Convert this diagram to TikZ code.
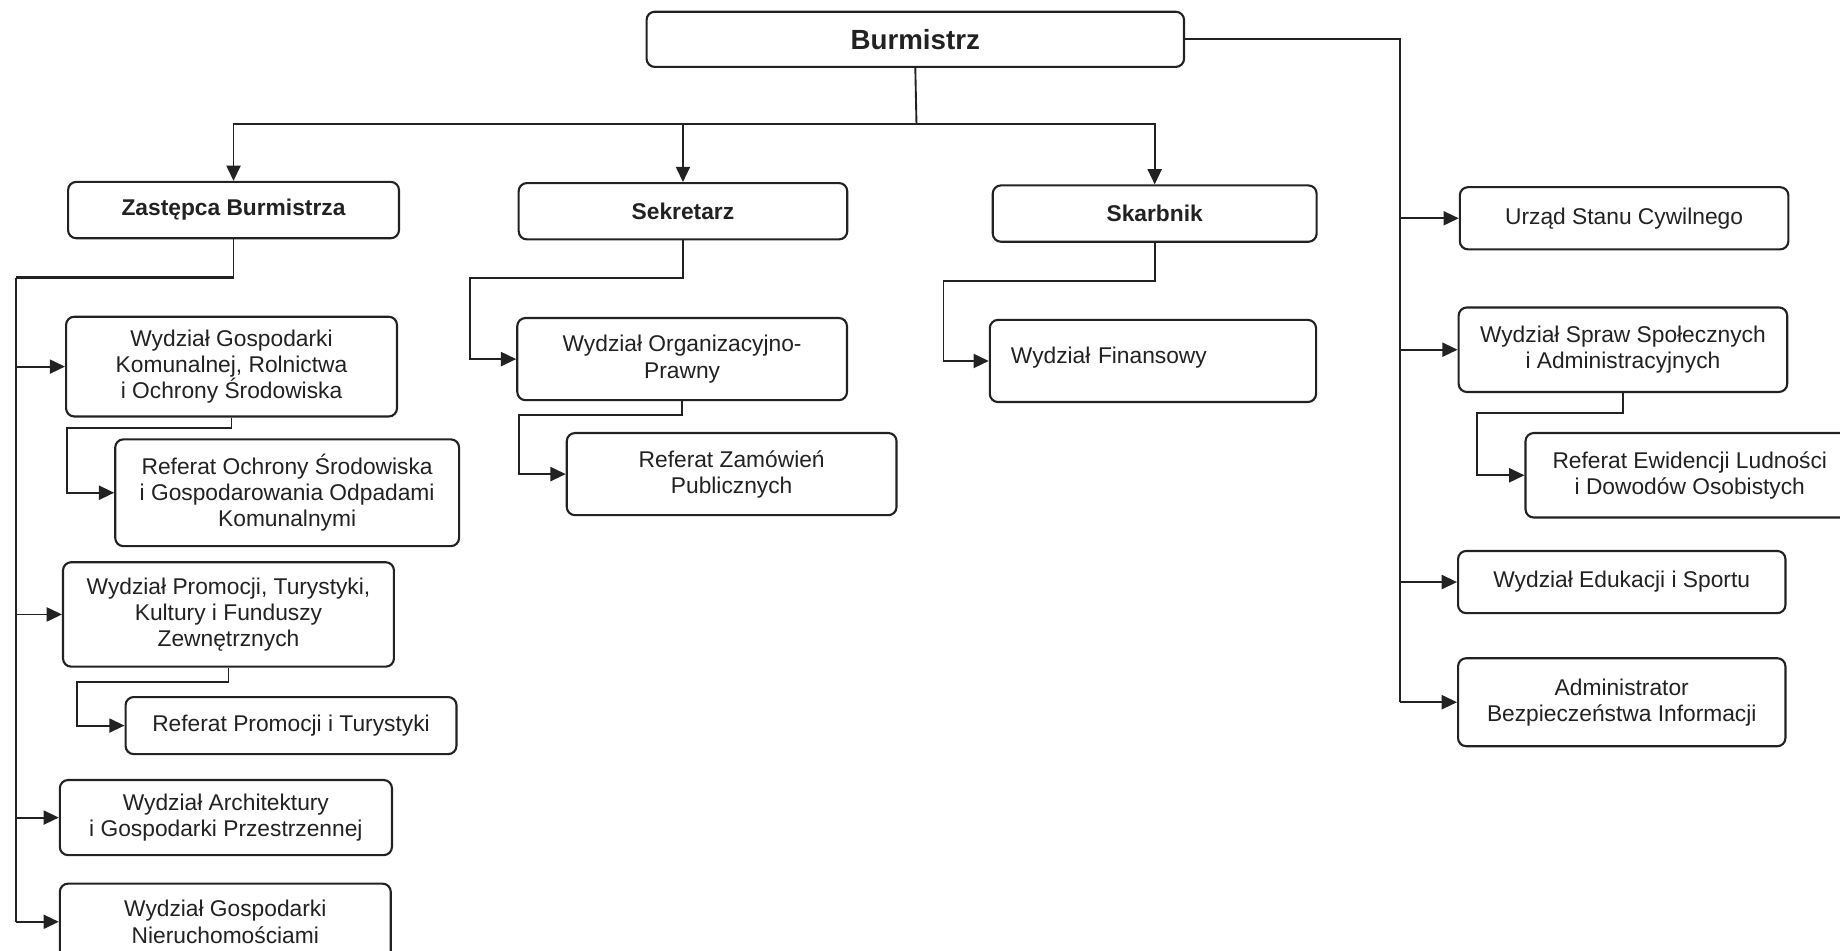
\documentclass[tikz,border=0pt]{standalone}
\usepackage{fontspec}
\setmainfont{Liberation Sans}
\usetikzlibrary{arrows.meta}
\definecolor{ink}{HTML}{222222}
\tikzset{
  box/.style={draw=ink, text=ink, rounded corners=3.5pt, line width=0.9pt, inner sep=2pt, align=center,
    font=\fontsize{9.7}{11.15}\selectfont},
  bx/.style 2 args={box, minimum width={#1*0.5pt}, minimum height={#2*0.5pt}},
  head/.style={font=\fontsize{9.7}{11.15}\selectfont\bfseries},
  conn/.style={draw=ink, line width=0.8pt},
  thickconn/.style={draw=ink, line width=1.4pt},
  arr/.style={conn, -{Triangle[length=6.5pt,width=6pt]}},
}
\begin{document}
\begin{tikzpicture}[x=0.5pt,y=-0.5pt]
\clip (0,0) rectangle (1568,810.4);
\fill[white] (0,0) rectangle (1568,810.4);

% top
\node[bx={458}{47}, font=\fontsize{11.8}{14}\selectfont\bfseries] (burm) at (780,33.5) {Burmistrz};
\node[bx={282}{48}, head] (zast) at (199,179) {Zastępca Burmistrza};
\node[bx={280}{48}, head] (sekr) at (582,180) {Sekretarz};
\node[bx={276}{48}, head] (skarb) at (984,182) {Skarbnik};

% right column
\node[bx={280}{53}] (usc) at (1384,186) {Urząd Stanu Cywilnego};
\node[bx={280}{72}] (wss) at (1383,298) {Wydział Spraw Społecznych\\i Administracyjnych};
\node[bx={280}{72}] (rel) at (1440,405) {Referat Ewidencji Ludności\\i Dowodów Osobistych};
\node[bx={279}{53}] (wes) at (1382,496) {Wydział Edukacji i Sportu};
\node[bx={279}{75}] (abi) at (1382,598.4) {Administrator\\Bezpieczeństwa Informacji};

% left column
\node[bx={282}{85}] (wgk) at (197.3,312.4) {Wydział Gospodarki\\Komunalnej, Rolnictwa\\i Ochrony Środowiska};
\node[bx={293}{91}] (ros) at (244.7,419.9) {Referat Ochrony Środowiska\\i Gospodarowania Odpadami\\Komunalnymi};
\node[bx={282}{89}] (wpt) at (194.7,523.6) {Wydział Promocji, Turystyki,\\Kultury i Funduszy\\Zewnętrznych};
\node[bx={282}{48.6}] (rpt) at (248,618.3) {Referat Promocji i Turystyki};
\node[bx={283}{64}] (wag) at (192.5,696.7) {Wydział Architektury\\i Gospodarki Przestrzennej};
\node[bx={282}{65}] (wgn) at (192,785.5) {Wydział Gospodarki\\Nieruchomościami};

% middle columns
\node[bx={281}{70}] (wop) at (581.3,306) {Wydział Organizacyjno-\\Prawny};
\node[bx={281}{70}] (rzp) at (623.5,404) {Referat Zamówień\\Publicznych};
\node[bx={278}{70}, align=left, text width=121pt, inner xsep=8.85pt, text height=8pt, text depth=5.6pt] (wfin) at (982.5,307.6) {Wydział Finansowy};

% connector coordinates
\coordinate (hb) at (781,106);
\coordinate (rt) at (1193,35);
\coordinate (zk) at (14,236.6);
\coordinate (gk) at (56.8,365);
\coordinate (pk) at (65.4,581);
\coordinate (sk) at (400.5,237);
\coordinate (ok) at (442,353.7);
\coordinate (fk) at (804,239.5);
\coordinate (wk) at (1259,351.7);

% Burmistrz to top level
\draw[conn] (burm.south) -- (hb);
\draw[arr] (hb) -| (zast.north);
\draw[arr] (hb) -| (sekr.north);
\draw[arr] (hb) -| (skarb.north);

% right trunk
\draw[conn] (burm.east) -- (burm.east -| rt) -- (rt |- abi.west);
\draw[arr] (rt |- usc.west) -- (usc.west);
\draw[arr] (rt |- wss.west) -- (wss.west);
\draw[arr] (rt |- wes.west) -- (wes.west);
\draw[arr] (rt |- abi.west) -- (abi.west);
\draw[arr] (wss.south) |- (wk) |- (rel.west);

% left trunk
\draw[conn] (zast.south) -- (zast.south |- zk);
\draw[thickconn] (zast.south |- zk) -- (zk);
\draw[conn] (zk) -- (zk |- wgn.west);
\draw[arr] (zk |- wgk.west) -- (wgk.west);
\draw[arr] (zk |- wpt.west) -- (wpt.west);
\draw[arr] (zk |- wag.west) -- (wag.west);
\draw[arr] (zk |- wgn.west) -- (wgn.west);
\draw[arr] (wgk.south) |- (gk) |- (ros.west);
\draw[arr] (wpt.south) |- (pk) |- (rpt.west);

% Sekretarz
\draw[arr] (sekr.south) |- (sk) |- (wop.west);
\draw[arr] (wop.south) |- (ok) |- (rzp.west);

% Skarbnik
\draw[arr] (skarb.south) |- (fk) |- (wfin.west);
\end{tikzpicture}
\end{document}
